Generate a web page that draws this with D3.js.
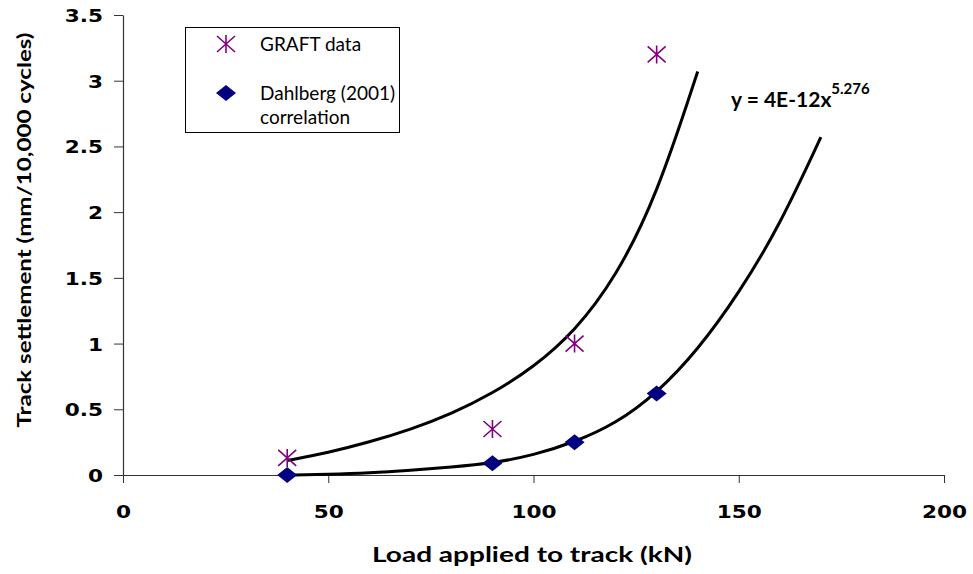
<!DOCTYPE html>
<html>
<head>
<meta charset="utf-8">
<script src="https://cdn.jsdelivr.net/npm/d3@7"></script>
<style>
  body { margin: 0; background: #fff; }
  svg { display: block; }
</style>
</head>
<body>
<div class="chartWrap"></div>
<script>
//Data
const graftLoad = [40, 90, 110, 130],
      graftSettle = [0.13, 0.35, 1.0, 3.2];
const dahlLoad = [40, 90, 110, 130],
      dahlSettle = [0.0, 0.09, 0.25, 0.62];
//trendline through GRAFT data
const fitLoad = [40, 50, 60, 70, 80, 90, 100, 110, 120, 130, 140],
      fitSettle = [0.11, 0.17, 0.25, 0.345, 0.465, 0.62, 0.82, 1.09, 1.5, 2.12, 3.07];
//Dahlberg (2001) correlation curve
const corrLoad = [40, 50, 60, 70, 80, 90, 100, 110, 120, 130, 140, 150, 160, 170],
      corrSettle = [0.0, 0.005, 0.015, 0.035, 0.06, 0.09, 0.15, 0.25, 0.39, 0.62, 0.95, 1.38, 1.9, 2.57];
const xTicks = [0, 50, 100, 150, 200],
      yTicks = [0, 0.5, 1, 1.5, 2, 2.5, 3, 3.5];

const w = 973, h = 574;
const margin = {top: 15, right: 29, bottom: 99, left: 123};
const tickFont = "'DejaVu Sans', Verdana, sans-serif",
      textFont = "Lato, 'Open Sans', sans-serif";
const stretch = 1.2; //tick labels in the picture are drawn wide

let svg = d3.select(".chartWrap").append("svg").attr("width", w).attr("height", h);

let x = d3.scaleLinear().domain([0, 200]).range([margin.left, w - margin.right]);
let y = d3.scaleLinear().domain([0, 3.5]).range([h - margin.bottom, margin.top]);

//Axes
let xAxis = svg.append("g").attr("transform", "translate(0," + y(0) + ")")
  .call(d3.axisBottom(x).tickValues(xTicks).tickSize(8).tickPadding(22).tickSizeOuter(0).tickFormat(d3.format("d")));
let yAxis = svg.append("g").attr("transform", "translate(" + x(0) + ",0)")
  .call(d3.axisLeft(y).tickValues(yTicks).tickSize(9).tickPadding(11).tickSizeOuter(0).tickFormat(d => d));
[xAxis, yAxis].forEach(a => {
  a.select(".domain").attr("stroke", "#333").attr("stroke-width", 1.2);
  a.selectAll(".tick line").attr("stroke", "#333");
  a.selectAll("text").attr("font-family", tickFont).attr("font-weight", "bold").attr("font-size", 18).attr("fill", "#000")
    .attr("transform", "scale(" + stretch + ",1)");
});
yAxis.selectAll("text").attr("dy", "0.36em").attr("x", -20 / stretch);

//Axis titles
svg.append("text").text("Load applied to track (kN)")
  .attr("x", 532).attr("y", 562).attr("text-anchor", "middle")
  .attr("textLength", 320).attr("lengthAdjust", "spacingAndGlyphs")
  .attr("font-family", textFont).attr("font-weight", "bold").attr("font-size", 20);
svg.append("text").text("Track settlement (mm/10,000 cycles)")
  .attr("transform", "translate(31,230) rotate(-90)").attr("text-anchor", "middle")
  .attr("textLength", 395).attr("lengthAdjust", "spacingAndGlyphs")
  .attr("font-family", textFont).attr("font-weight", "bold").attr("font-size", 19);

//Curves
let line = d3.line().x(d => x(d[0])).y(d => y(d[1])).curve(d3.curveBasis);
svg.append("path").datum(d3.zip(fitLoad, fitSettle)).attr("d", line)
  .attr("fill", "none").attr("stroke", "#000").attr("stroke-width", 3);
svg.append("path").datum(d3.zip(corrLoad, corrSettle)).attr("d", line)
  .attr("fill", "none").attr("stroke", "#000").attr("stroke-width", 3);

//Markers
const starPath = "M-9,-8L9,8M-9,8L9,-8M0,-9L0,9";
const diamondPath = "M0,-8L10,0L0,8L-10,0Z";
svg.selectAll(".dahl").data(d3.zip(dahlLoad, dahlSettle)).enter()
  .append("path").attr("class", "dahl").attr("d", diamondPath)
  .attr("transform", d => "translate(" + x(d[0]) + "," + y(d[1]) + ")")
  .attr("fill", "#000080");
svg.selectAll(".graft").data(d3.zip(graftLoad, graftSettle)).enter()
  .append("path").attr("class", "graft").attr("d", starPath)
  .attr("transform", d => "translate(" + x(d[0]) + "," + y(d[1]) + ")")
  .attr("fill", "none").attr("stroke", "#800080").attr("stroke-width", 1.6);

//Equation label
let eq = svg.append("text").attr("x", 731).attr("y", 107)
  .attr("font-family", textFont).attr("font-weight", "bold").attr("font-size", 21);
eq.append("tspan").text("y = 4E-12x");
eq.append("tspan").text("5.276").attr("font-size", 15).attr("dy", -13);

//Legend
let legend = svg.append("g");
legend.append("rect").attr("x", 185.5).attr("y", 27.5).attr("width", 214).attr("height", 105)
  .attr("fill", "#fff").attr("stroke", "#000").attr("stroke-width", 1);
legend.append("path").attr("d", starPath).attr("transform", "translate(226,44)")
  .attr("fill", "none").attr("stroke", "#800080").attr("stroke-width", 1.6);
legend.append("path").attr("d", diamondPath).attr("transform", "translate(226,93)")
  .attr("fill", "#000080");
[["GRAFT data", 51], ["Dahlberg (2001)", 100], ["correlation", 124]].forEach(t => {
  legend.append("text").text(t[0]).attr("x", 260).attr("y", t[1])
    .attr("font-family", textFont).attr("font-size", 19).attr("fill", "#000");
});
</script>
</body>
</html>
